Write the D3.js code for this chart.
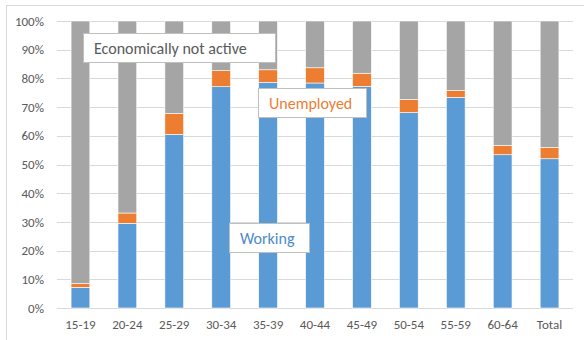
<!DOCTYPE html>
<html>
<head>
<meta charset="utf-8">
<script src="https://cdn.jsdelivr.net/npm/d3@7"></script>
<style>
  body { margin: 0; background: #fff; }
  svg { display: block; font-family: Carlito, Calibri, Lato, sans-serif; }
</style>
</head>
<body>
<div id="chart"></div>
<script>
// Data (share of each age group)
const categories = ["15-19", "20-24", "25-29", "30-34", "35-39", "40-44", "45-49", "50-54", "55-59", "60-64", "Total"];
const working    = [7.2, 29.5, 60.5, 77.1, 78.6, 78.4, 77.2, 68.1, 73.4, 53.4, 52.0];
const unemployed = [1.3, 3.6, 7.3, 5.6, 4.4, 5.3, 4.6, 4.6, 2.4, 3.3, 4.0];
const yTicks = [0, 10, 20, 30, 40, 50, 60, 70, 80, 90, 100];

const width = 584, height = 340;
const margin = {left: 57, right: 11, top: 21, bottom: 32};
const fontStack = "Carlito, Calibri, Lato, sans-serif";

const svg = d3.select("#chart").append("svg")
    .attr("width", width)
    .attr("height", height);

// chart frame
svg.append("rect")
   .attr("x", 6.5).attr("y", 5.5)
   .attr("width", 700).attr("height", 500)
   .attr("fill", "none")
   .attr("stroke", "#D9D9D9");

const x = d3.scaleBand()
    .domain(categories)
    .range([margin.left, width - margin.right])
    .paddingInner(0.6)
    .paddingOuter(0.3);

const y = d3.scaleLinear()
    .domain([0, 100])
    .range([height - margin.bottom, margin.top]);

// gridlines
svg.append("g")
   .selectAll("line")
   .data(yTicks)
   .enter()
   .append("line")
   .attr("x1", margin.left)
   .attr("x2", width - margin.right)
   .attr("y1", d => Math.round(y(d)) + 0.5)
   .attr("y2", d => Math.round(y(d)) + 0.5)
   .attr("stroke", "#D9D9D9");

// y axis labels
const yAxis = svg.append("g")
   .attr("transform", `translate(${margin.left - 10},0)`)
   .call(d3.axisLeft(y).tickValues(yTicks).tickSize(0).tickFormat(d => d + "%"));
yAxis.select(".domain").remove();
yAxis.selectAll("text")
     .attr("fill", "#595959")
     .attr("font-size", 13)
     .attr("font-family", fontStack);

// x axis labels
const xAxis = svg.append("g")
   .attr("transform", `translate(0,${height - margin.bottom + 9})`)
   .call(d3.axisBottom(x).tickSize(0));
xAxis.select(".domain").remove();
xAxis.selectAll("text")
     .attr("fill", "#595959")
     .attr("font-size", 13)
     .attr("font-family", fontStack);

// stacked segments
const rows = categories.map((c, i) => ({
    cat: c,
    working: working[i],
    unemployed: unemployed[i],
    inactive: 100 - working[i] - unemployed[i]
}));
const keys = ["working", "unemployed", "inactive"];
const colors = {working: "#5B9BD5", unemployed: "#ED7D31", inactive: "#A5A5A5"};
const stack = d3.stack().keys(keys)(rows);

svg.append("g")
   .selectAll("g")
   .data(stack)
   .enter()
   .append("g")
   .attr("fill", d => colors[d.key])
   .selectAll("rect")
   .data(d => d)
   .enter()
   .append("rect")
   .attr("x", d => x(d.data.cat))
   .attr("width", x.bandwidth())
   .attr("y", d => y(d[1]))
   .attr("height", d => y(d[0]) - y(d[1]))
   .attr("stroke", "#fff")
   .attr("stroke-width", 0.6);

// series label boxes
const labels = [
    {text: "Economically not active", color: "#595959", bx: 83, by: 33, bw: 192, bh: 29},
    {text: "Unemployed", color: "#ED7D31", bx: 258, by: 88, bw: 108, bh: 29},
    {text: "Working", color: "#4A8BCB", bx: 229, by: 223, bw: 80, bh: 29}
];
const lab = svg.append("g").selectAll("g").data(labels).enter().append("g");
lab.append("rect")
   .attr("x", d => d.bx + 0.5).attr("y", d => d.by + 0.5)
   .attr("width", d => d.bw).attr("height", d => d.bh)
   .attr("fill", "#fff")
   .attr("stroke", "#BFBFBF");
lab.append("text")
   .attr("x", d => d.bx + 11)
   .attr("y", d => d.by + d.bh / 2 + 6)
   .attr("fill", d => d.color)
   .attr("font-size", 16)
   .text(d => d.text);
</script>
</body>
</html>
